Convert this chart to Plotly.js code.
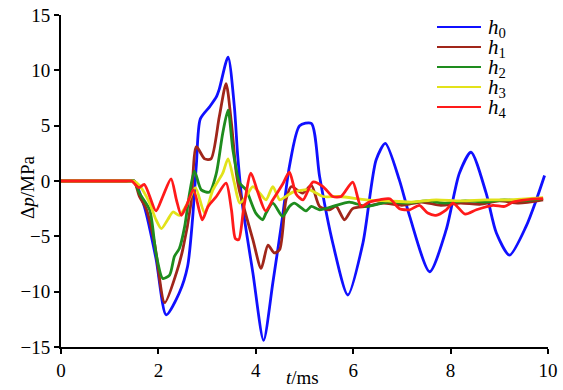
<!DOCTYPE html>
<html>
<head>
<meta charset="utf-8">
<script src="https://cdn.plot.ly/plotly-3.0.1.min.js"></script>
<style>html,body{margin:0;padding:0;background:#fff}#chart{width:563px;height:390px}</style>
</head>
<body>
<div id="chart"></div>
<script>
// Series names
const names = ['<i>h</i><sub>0</sub>', '<i>h</i><sub>1</sub>', '<i>h</i><sub>2</sub>', '<i>h</i><sub>3</sub>', '<i>h</i><sub>4</sub>'];

// h0
const t0 = [0, 0.5, 1.0, 1.4, 1.5, 1.71, 1.95, 2.16, 2.43, 2.6, 2.7, 2.78, 2.86, 3.05, 3.19, 3.25, 3.43, 3.56, 3.63, 3.73, 3.94, 4.16, 4.35, 4.55, 4.69, 4.9, 5.14, 5.31, 5.58, 5.89, 6.2, 6.47, 6.66, 6.95, 7.16, 7.57, 7.91, 8.18, 8.42, 8.73, 8.94, 9.21, 9.55, 9.76, 9.93];
const p0 = [0, 0, 0, 0, 0, -2.3, -7.0, -12.1, -10.1, -7.7, -3.5, 1.5, 5.6, 6.7, 7.6, 8.3, 11.2, 6.7, 2.2, -2.3, -8.3, -14.4, -9.2, -3.2, 1.3, 5.0, 5.2, 0.4, -5.6, -10.3, -5.6, 1.9, 3.4, 0.06, -3.2, -8.2, -4.4, 0.7, 2.6, -1.1, -4.7, -6.7, -4.1, -1.7, 0.5];

// h1
const t1 = [0, 0.5, 1.0, 1.4, 1.5, 1.61, 1.75, 1.92, 2.13, 2.37, 2.5, 2.67, 2.78, 2.95, 3.08, 3.25, 3.39, 3.5, 3.6, 3.66, 3.94, 4.11, 4.25, 4.38, 4.49, 4.62, 4.73, 4.96, 5.14, 5.31, 5.51, 5.65, 5.82, 5.99, 6.27, 6.6, 7.0, 7.4, 7.8, 8.2, 8.6, 9.0, 9.4, 9.9];
const p1 = [0, 0, 0, 0, 0, -1.4, -2.5, -5.6, -11.0, -8.3, -6.2, -2.0, 3.1, 2.0, 2.0, 5.8, 8.8, 5.2, 0.7, -0.8, -5.3, -7.9, -5.8, -6.5, -6.2, -1.7, -0.5, -1.1, -0.4, -2.3, -2.6, -2.3, -3.5, -2.5, -2.3, -2.0, -2.2, -1.9, -2.2, -2.0, -2.1, -1.8, -2.0, -1.7];

// h2
const t2 = [0, 0.5, 1.0, 1.4, 1.5, 1.61, 1.82, 1.95, 2.09, 2.23, 2.33, 2.43, 2.54, 2.64, 2.74, 2.88, 3.05, 3.19, 3.32, 3.43, 3.53, 3.67, 3.8, 4.0, 4.14, 4.21, 4.35, 4.55, 4.69, 4.79, 5.03, 5.14, 5.31, 5.58, 5.92, 6.27, 6.7, 7.1, 7.5, 7.9, 8.3, 8.7, 9.1, 9.5, 9.9];
const p2 = [0, 0, 0, 0, 0, -1.1, -2.6, -6.5, -8.8, -8.5, -6.8, -6.1, -4.1, -1.1, 0.9, -0.8, -1.0, 0.7, 4.3, 6.4, 2.8, -0.2, -0.8, -2.9, -3.5, -2.9, -2.0, -3.2, -2.3, -2.0, -2.7, -2.3, -2.6, -2.3, -1.9, -2.3, -1.9, -2.0, -1.8, -2.0, -1.8, -1.9, -1.7, -1.8, -1.6];

// h3
const t3 = [0, 0.5, 1.0, 1.4, 1.5, 1.61, 1.82, 1.95, 2.06, 2.19, 2.3, 2.43, 2.6, 2.76, 2.95, 3.12, 3.32, 3.43, 3.56, 3.67, 3.8, 3.94, 4.08, 4.21, 4.35, 4.49, 4.62, 4.76, 5.1, 5.38, 5.72, 6.27, 6.7, 7.2, 7.7, 8.2, 8.7, 9.2, 9.9];
const p3 = [0, 0, 0, 0, 0, -0.4, -2.0, -3.5, -4.3, -3.5, -2.8, -3.1, -2.0, -0.6, -2.9, -0.8, 0.7, 2.0, -0.2, -2.0, -1.4, -0.5, -1.1, -1.7, -0.5, -1.7, -1.4, -1.0, -0.8, -1.4, -1.4, -1.7, -1.8, -1.9, -1.7, -1.8, -1.7, -1.7, -1.5];

// h4
const t4 = [0, 0.5, 1.0, 1.35, 1.45, 1.6, 1.71, 1.95, 2.09, 2.26, 2.37, 2.47, 2.57, 2.72, 2.9, 3.02, 3.19, 3.39, 3.5, 3.58, 3.65, 3.75, 3.9, 4.04, 4.2, 4.35, 4.55, 4.69, 4.83, 4.97, 5.17, 5.38, 5.58, 5.75, 5.99, 6.16, 6.33, 6.54, 6.75, 6.95, 7.16, 7.36, 7.53, 7.7, 7.91, 8.05, 8.3, 8.53, 8.87, 9.11, 9.28, 9.55, 9.9];
const p4 = [0, 0, 0, 0, 0, -0.6, -0.3, -2.7, -1.4, 0.2, -1.7, -3.1, -2.3, -0.8, -3.5, -2.3, -1.4, -0.2, -2.6, -5.2, -5.3, -2.5, 0.7, -1.0, -2.7, -1.7, -0.3, 0.8, -1.2, -1.7, -0.1, -0.5, -1.4, -1.4, -0.1, -2.3, -1.9, -1.7, -1.6, -2.5, -2.6, -2.2, -2.9, -3.1, -2.6, -2.0, -3.0, -2.6, -2.2, -2.3, -1.9, -1.7, -1.6];

const xTicks = [0, 2, 4, 6, 8, 10];
const yTicks = [-15, -10, -5, 0, 5, 10, 15];

const colors = ['#1010ff', '#a0261a', '#1e8c1e', '#e2e21a', '#ff1a1a'];
const ts = [t0, t1, t2, t3, t4];
const ps = [p0, p1, p2, p3, p4];

const traces = ts.map((t, i) => ({
  x: t, y: ps[i], name: names[i], type: 'scatter', mode: 'lines', showlegend: false,
  line: {color: colors[i], width: 2.8, shape: 'spline', smoothing: 0.7}
}));

const FAM = 'Liberation Serif';
const font = {family: FAM, size: 19, color: '#000'};

// Legend drawn as shapes + annotations (positions in pixels converted to paper coords)
const PL = 61, PR = 548, PT = 15, PB = 347;
const px2x = px => (px - PL) / (PR - PL);
const py2y = py => (PB - py) / (PB - PT);
const legendRows = [27, 47, 67, 87, 107];
const shapes = [];
const annotations = [];
names.forEach((n, i) => {
  shapes.push({type: 'line', xref: 'paper', yref: 'paper',
    x0: px2x(437), x1: px2x(481), y0: py2y(legendRows[i]), y1: py2y(legendRows[i]),
    line: {color: colors[i], width: 2.2}});
  annotations.push({xref: 'paper', yref: 'paper', x: px2x(486), y: py2y(legendRows[i] + 1),
    xanchor: 'left', yanchor: 'middle', showarrow: false, text: n,
    font: {family: FAM, size: 21, color: '#000'}});
});
// Axis titles
annotations.push({xref: 'paper', yref: 'paper', x: 0, y: py2y(188), xshift: -PL + 27,
  xanchor: 'center', yanchor: 'middle', textangle: -90, showarrow: false,
  text: '\u0394<i>p</i>/MPa', font: font});
annotations.push({xref: 'paper', yref: 'paper', x: px2x(302), y: 0, yshift: -30,
  xanchor: 'center', yanchor: 'middle', showarrow: false,
  text: '<i>t</i>/ms', font: font});

const layout = {
  width: 563, height: 390,
  margin: {l: PL, r: 563 - PR, t: PT, b: 390 - PB},
  paper_bgcolor: '#fff', plot_bgcolor: '#fff',
  font: font,
  showlegend: false,
  shapes: shapes,
  annotations: annotations,
  xaxis: {
    range: [0, 10], tickvals: xTicks, ticktext: xTicks.map(String),
    showline: true, linecolor: '#000', linewidth: 2, ticks: 'outside', ticklen: 5, tickwidth: 2, tickcolor: '#000',
    showgrid: false, zeroline: false, tickfont: font
  },
  yaxis: {
    range: [-15, 15], tickvals: yTicks, ticktext: yTicks.map(v => v < 0 ? '\u2212' + Math.abs(v) : String(v)),
    showline: true, linecolor: '#000', linewidth: 2, ticks: 'outside', ticklen: 5, tickwidth: 2, tickcolor: '#000',
    showgrid: false, zeroline: false, tickfont: font
  }
};

Plotly.newPlot('chart', traces, layout, {displayModeBar: false, staticPlot: true});
</script>
</body>
</html>
